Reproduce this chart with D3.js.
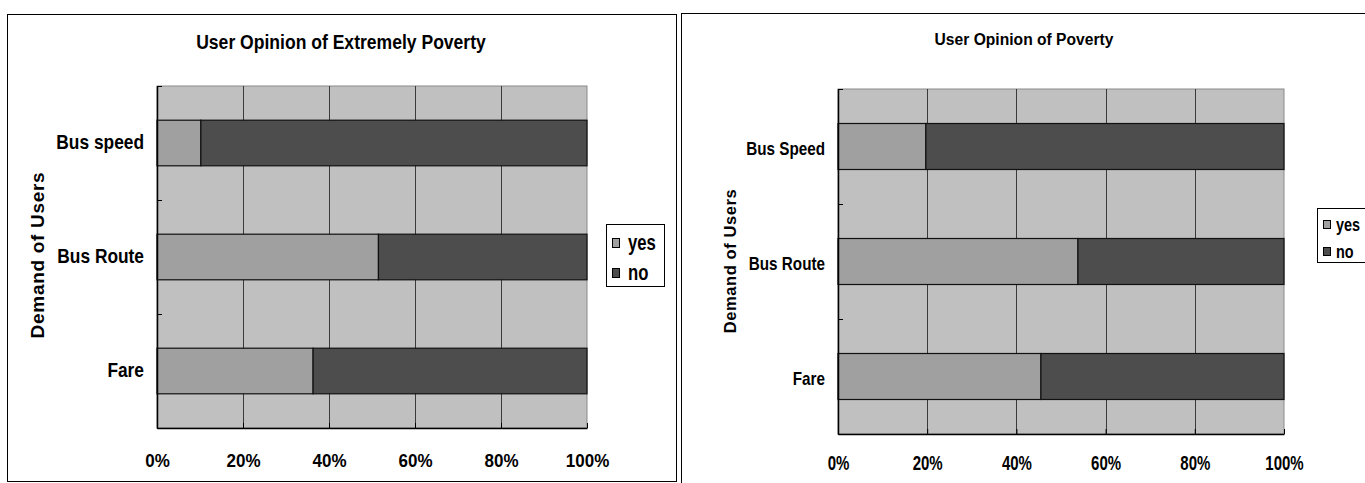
<!DOCTYPE html>
<html>
<head>
<meta charset="utf-8">
<script src="https://cdn.jsdelivr.net/npm/d3@7"></script>
<style>
  html, body { margin: 0; padding: 0; background: #fff; }
  svg { display: block; }
  text { font-family: "Liberation Sans", Arial, sans-serif; font-weight: bold; fill: #000; }
</style>
</head>
<body>
<svg id="chart" width="1365" height="483"></svg>
<script>
// Survey answers (percent of users) for each demand, two user groups
const categoriesExtreme = ["Bus speed", "Bus Route", "Fare"];
const yesExtreme = [10.2, 51.5, 36.3];
const noExtreme = [89.8, 48.5, 63.7];

const categoriesPoverty = ["Bus Speed", "Bus Route", "Fare"];
const yesPoverty = [19.7, 53.8, 45.5];
const noPoverty = [80.3, 46.2, 54.5];

const seriesNames = ["yes", "no"];
const xTickValues = [0, 0.2, 0.4, 0.6, 0.8, 1];
const xTickLabels = ["0%", "20%", "40%", "60%", "80%", "100%"];

const colors = { yes: "#a0a0a0", no: "#4d4d4d" };
const plotBg = "#c0c0c0";

const svg = d3.select("#chart");

// narrow-face look: squeeze glyphs horizontally around the text anchor
function squeezeAt(sel, x, y, sx) {
  sel.attr("x", 0).attr("y", 0).attr("transform", `translate(${x},${y}) scale(${sx},1)`);
}
function squeezeTicks(sel, sx) {
  sel.each(function () {
    const t = d3.select(this);
    const x0 = +t.attr("x") || 0;
    t.attr("x", x0 / sx).attr("transform", `scale(${sx},1)`);
  });
}

// Outer frames of the two chart objects
svg.append("rect").attr("x", 7.5).attr("y", 14.5).attr("width", 669).attr("height", 467)
  .attr("fill", "#fff").attr("stroke", "#000").attr("stroke-width", 1);
svg.append("rect").attr("x", 681.5).attr("y", 13.5).attr("width", 700).attr("height", 480)
  .attr("fill", "#fff").attr("stroke", "#000").attr("stroke-width", 1);

function drawPanel(cfg) {
  const { categories, yes, no, title } = cfg;
  const rows = categories.map((c, i) => ({ cat: c, yes: yes[i], no: no[i] }));
  const layers = d3.stack().keys(seriesNames).offset(d3.stackOffsetExpand)(rows);

  const x = d3.scaleLinear().domain([0, 1]).range([cfg.left, cfg.right]);
  const y = d3.scaleBand().domain(categories).range([cfg.top, cfg.bottom])
    .paddingInner(0.6).paddingOuter(0.3);

  const g = svg.append("g");

  // plot area
  g.append("rect").attr("x", cfg.left).attr("y", cfg.top)
    .attr("width", cfg.right - cfg.left).attr("height", cfg.bottom - cfg.top)
    .attr("fill", plotBg).attr("stroke", "#8a8a8a").attr("stroke-width", 1);

  // vertical gridlines
  g.selectAll(".grid").data(xTickValues.slice(1, -1)).join("line")
    .attr("x1", d => Math.round(x(d)) + 0.5).attr("x2", d => Math.round(x(d)) + 0.5)
    .attr("y1", cfg.top).attr("y2", cfg.bottom)
    .attr("stroke", "#3a3a3a").attr("stroke-width", 1);

  // stacked bars
  layers.forEach(layer => {
    g.selectAll(null).data(layer).join("rect")
      .attr("x", d => x(d[0]))
      .attr("y", (d, i) => y(categories[i]))
      .attr("width", d => x(d[1]) - x(d[0]))
      .attr("height", y.bandwidth())
      .attr("fill", colors[layer.key])
      .attr("stroke", "#111").attr("stroke-width", 1.2);
  });

  // category axis
  const ya = g.append("g").attr("transform", `translate(${cfg.left},0)`)
    .call(d3.axisLeft(y).tickSize(0).tickPadding(cfg.labelPad));
  ya.select(".domain").attr("stroke", "#000").attr("stroke-width", 1.5);
  ya.selectAll("text").attr("font-size", cfg.labelSize).attr("dy", cfg.labelDy)
    .call(squeezeTicks, cfg.labelSx);

  // inward tick marks at the category boundaries
  const step = y.step();
  const bounds = d3.range(categories.length + 1).map(i => cfg.top + i * step);
  g.selectAll(".ytick").data(bounds).join("line")
    .attr("x1", cfg.left).attr("x2", cfg.left + 5)
    .attr("y1", d => Math.round(d) + 0.5).attr("y2", d => Math.round(d) + 0.5)
    .attr("stroke", "#000").attr("stroke-width", 1);

  // value axis
  const xa = g.append("g").attr("transform", `translate(0,${cfg.bottom})`)
    .call(d3.axisBottom(x).tickValues(xTickValues)
      .tickFormat((d, i) => xTickLabels[i]).tickSizeInner(-5).tickSizeOuter(0).tickPadding(cfg.xPad));
  xa.select(".domain").attr("stroke", "#000").attr("stroke-width", 1.5);
  xa.selectAll(".tick line").attr("stroke", "#000");
  xa.selectAll("text").attr("font-size", cfg.tickSize).attr("dy", 0)
    .call(squeezeTicks, cfg.tickSx);

  // title
  svg.append("text").attr("text-anchor", "middle").attr("font-size", cfg.titleSize).text(title)
    .call(squeezeAt, cfg.titleX, cfg.titleY, cfg.titleSx);

  // axis title
  svg.append("text")
    .attr("transform", `translate(${cfg.axisTitleX},${cfg.axisTitleY}) rotate(-90)`)
    .attr("text-anchor", "middle").attr("font-size", cfg.axisTitleSize)
    .attr("letter-spacing", cfg.axisTitleSpacing)
    .text("Demand of Users");

  // legend
  const lg = svg.append("g").attr("transform", `translate(${cfg.legX},${cfg.legY})`);
  lg.append("rect").attr("x", 0.5).attr("y", 0.5).attr("width", cfg.legW).attr("height", cfg.legH)
    .attr("fill", "#fff").attr("stroke", "#000").attr("stroke-width", 1);
  seriesNames.forEach((s, i) => {
    const base = cfg.legBase0 + i * cfg.legRowStep;
    lg.append("rect").attr("x", cfg.legSwX + 0.5).attr("y", base - cfg.legSwH - 2.5)
      .attr("width", 7).attr("height", cfg.legSwH)
      .attr("fill", colors[s]).attr("stroke", "#000").attr("stroke-width", 1);
    lg.append("text").attr("font-size", cfg.legSize).text(s)
      .call(squeezeAt, cfg.legTextX, base, cfg.legSx);
  });
}

drawPanel({
  categories: categoriesExtreme, yes: yesExtreme, no: noExtreme,
  title: "User Opinion of Extremely Poverty",
  left: 157, right: 587, top: 86, bottom: 428,
  labelPad: 13, labelSize: 19.5, labelSx: 0.89, labelDy: "0.33em",
  xPad: 39, tickSize: 18.5, tickSx: 0.92,
  titleX: 341, titleY: 49, titleSize: 19.5, titleSx: 0.9,
  axisTitleX: 44, axisTitleY: 255, axisTitleSize: 19, axisTitleSpacing: 0.7,
  legX: 606, legY: 224, legW: 58, legH: 62, legBase0: 26, legRowStep: 30,
  legSwX: 6, legSwH: 9, legTextX: 22, legSize: 22, legSx: 0.76
});

drawPanel({
  categories: categoriesPoverty, yes: yesPoverty, no: noPoverty,
  title: "User Opinion of Poverty",
  left: 838, right: 1284, top: 89, bottom: 434,
  labelPad: 13, labelSize: 18.6, labelSx: 0.82, labelDy: "0.45em",
  xPad: 36, tickSize: 19.5, tickSx: 0.77,
  titleX: 1024, titleY: 45, titleSize: 17, titleSx: 0.92,
  axisTitleX: 735.5, axisTitleY: 261, axisTitleSize: 16.5, axisTitleSpacing: 0.6,
  legX: 1317, legY: 208, legW: 60, legH: 54, legBase0: 23, legRowStep: 27,
  legSwX: 6, legSwH: 8, legTextX: 19, legSize: 19, legSx: 0.76
});
</script>
</body>
</html>
